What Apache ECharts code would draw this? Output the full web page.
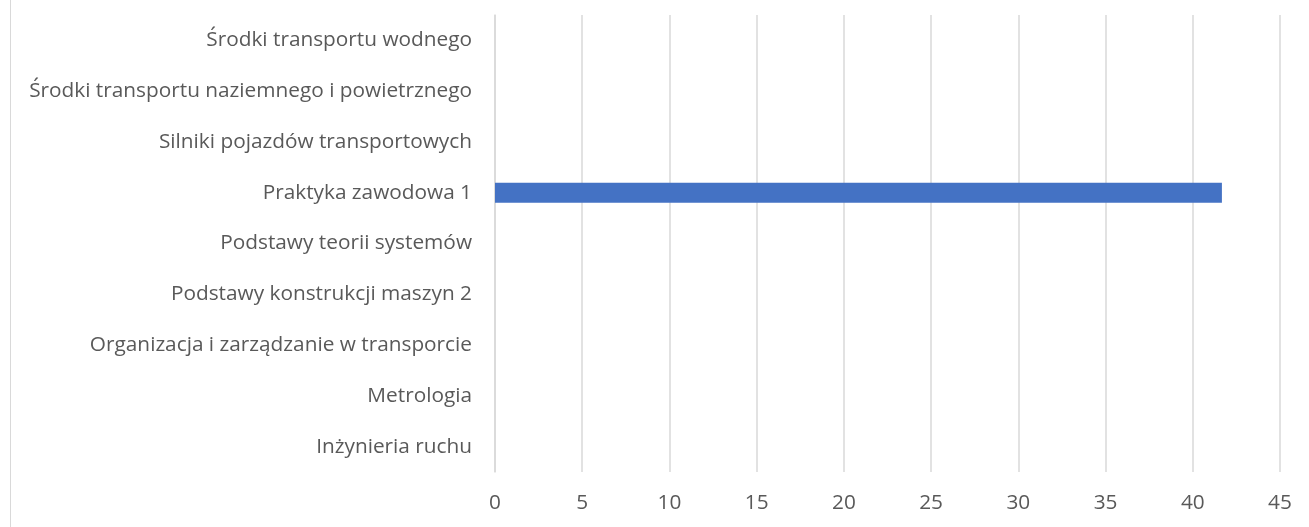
<!DOCTYPE html>
<html><head><meta charset="utf-8">
<script src="https://cdn.jsdelivr.net/npm/echarts@6/dist/echarts.min.js"></script>
<style>html,body{margin:0;padding:0;background:#fff;}#c{width:1309px;height:527px;}
#b{position:absolute;left:10px;top:0;width:1px;height:527px;background:#d9d9d9;}</style>
</head><body><div id="b"></div><div id="c"></div>
<script>
const categories = ["Inżynieria ruchu","Metrologia","Organizacja i zarządzanie w transporcie","Podstawy konstrukcji maszyn 2","Podstawy teorii systemów","Praktyka zawodowa 1","Silniki pojazdów transportowych","Środki transportu naziemnego i powietrznego","Środki transportu wodnego"];
const values = [null,null,null,null,null,41.67,null,null,null];
const xMin = 0, xMax = 45, xStep = 5;
const chart = echarts.init(document.getElementById('c'));
const font = '"Open Sans", sans-serif';
chart.setOption({
  animation:false,
  grid:{left:495,right:29,top:15,bottom:55,containLabel:false},
  xAxis:{type:'value',min:xMin,max:xMax,interval:xStep,
    axisLine:{show:false},axisTick:{show:false},
    axisLabel:{color:'#595959',fontSize:20.8,fontFamily:font,margin:21},
    splitLine:{lineStyle:{color:'#d9d9d9',width:1.5}}},
  yAxis:{type:'category',data:categories,
    axisLine:{show:true,lineStyle:{color:'#d9d9d9',width:1.5}},axisTick:{show:false},
    axisLabel:{color:'#595959',fontSize:20.8,fontFamily:font,margin:23}},
  series:[{type:'bar',data:values,barWidth:20,itemStyle:{color:'#4472c4'}}]
});
</script></body></html>
